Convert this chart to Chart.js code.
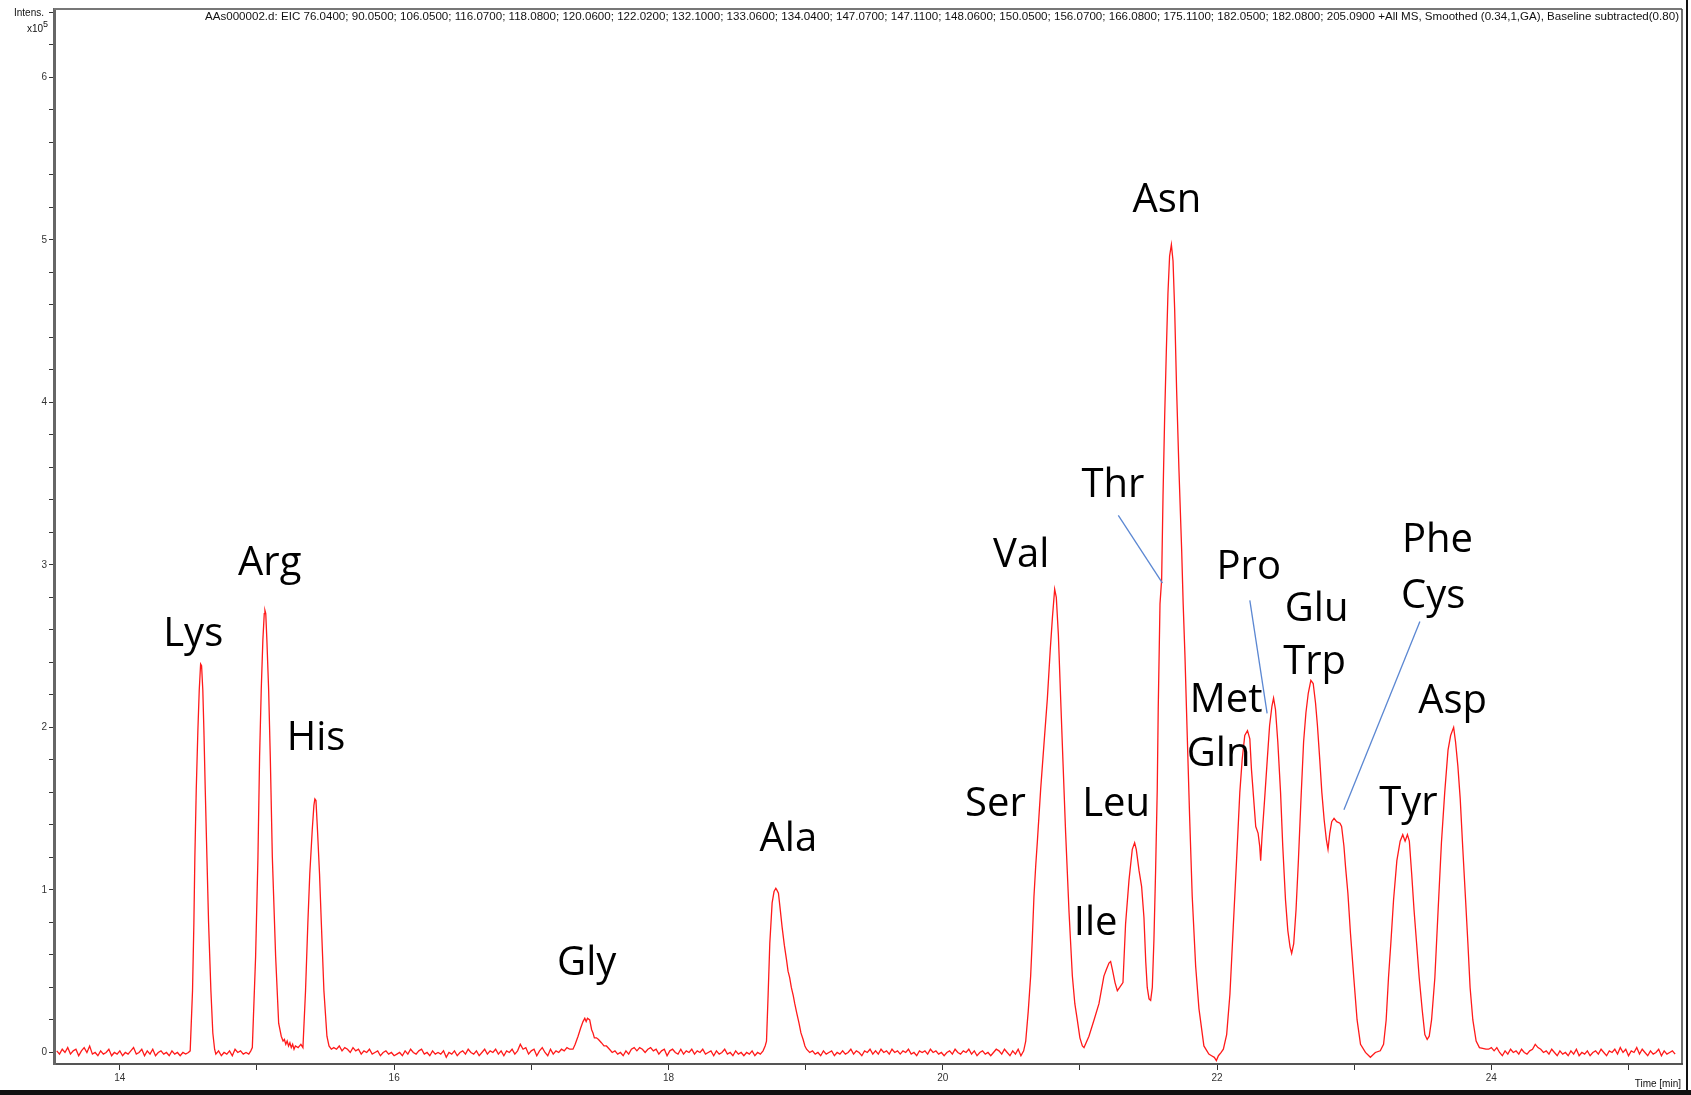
<!DOCTYPE html>
<html><head><meta charset="utf-8">
<script src="https://cdn.jsdelivr.net/npm/chart.js@4.4.1/dist/chart.umd.min.js"></script>
<style>html,body{margin:0;padding:0;background:#fff;overflow:hidden}canvas{display:block}</style>
</head><body>
<canvas id="c" width="1691" height="1095"></canvas>
<script>
// Chromatogram trace, [time (min), intensity (x10^5)], segment by segment
const baselineStart = [[13.54,0.01],[13.56,-0.01],[13.58,0.02],[13.60,0.00],[13.62,0.03],[13.64,-0.01],[13.66,0.01],[13.68,0.02],[13.70,-0.02],[13.72,0.01],[13.74,0.03],[13.76,0.00],[13.78,0.04],[13.80,-0.01],[13.82,0.00],[13.84,-0.02],[13.86,0.01],[13.88,-0.01],[13.90,0.00],[13.92,0.02],[13.94,-0.02],[13.96,0.00],[13.98,-0.01],[14.00,0.01],[14.02,-0.02],[14.04,0.00],[14.06,-0.01],[14.08,0.01],[14.10,0.03],[14.12,-0.01],[14.14,0.00],[14.16,0.02],[14.18,-0.02],[14.20,0.01],[14.22,-0.01],[14.24,0.02],[14.26,-0.02],[14.28,0.00],[14.30,0.01],[14.32,-0.01],[14.34,0.00],[14.36,-0.02],[14.38,0.01],[14.40,-0.01],[14.42,0.00],[14.44,-0.02],[14.46,0.00],[14.48,-0.01],[14.50,0.00]];
const lysArgHis = [[14.513,0.01],[14.53,0.38],[14.54,0.80],[14.547,1.20],[14.557,1.61],[14.569,1.98],[14.579,2.23],[14.589,2.39],[14.596,2.38],[14.605,2.23],[14.613,1.98],[14.623,1.61],[14.635,1.20],[14.647,0.80],[14.664,0.38],[14.678,0.12],[14.691,0.02],
  [14.70,-0.01],[14.72,0.01],[14.74,-0.02],[14.76,0.00],[14.78,-0.01],[14.80,0.01],[14.82,-0.02],[14.84,0.02],[14.86,0.00],[14.88,0.01],[14.90,-0.01],[14.92,0.00],[14.94,-0.01],[14.955,0.01],
  [14.966,0.03],[14.99,0.59],[15.007,1.20],[15.019,1.82],[15.031,2.23],[15.043,2.54],[15.053,2.70],[15.058,2.72],[15.064,2.70],[15.072,2.54],[15.085,2.23],[15.097,1.82],[15.112,1.20],[15.136,0.59],[15.158,0.18],[15.177,0.10],[15.19,0.07],[15.20,0.08],[15.21,0.05],[15.22,0.07],[15.23,0.04],[15.24,0.06],[15.25,0.03],[15.26,0.05],[15.27,0.02],[15.28,0.04],[15.30,0.03],[15.32,0.05],
  [15.335,0.03],[15.354,0.38],[15.371,0.80],[15.385,1.10],[15.403,1.37],[15.415,1.52],[15.422,1.56],[15.43,1.55],[15.441,1.37],[15.456,1.10],[15.469,0.80],[15.488,0.38],[15.51,0.10],[15.525,0.04],[15.542,0.02]];
const baselineMid1 = [[15.56,0.03],[15.58,0.02],[15.60,0.04],[15.62,0.01],[15.64,0.03],[15.66,0.02],[15.68,0.00],[15.70,0.03],[15.72,0.01],[15.74,0.02],[15.76,-0.01],[15.78,0.01],[15.80,0.00],[15.82,0.02],[15.84,-0.01],[15.86,0.00],[15.88,0.01],[15.90,-0.02],[15.92,0.00],[15.94,0.01],[15.96,-0.01],[15.98,0.00],[16.00,-0.02],[16.02,-0.01],[16.04,0.00],[16.06,-0.02],[16.08,0.01],[16.10,-0.01],[16.12,0.02],[16.14,0.00],[16.16,-0.01],[16.18,0.01],[16.20,0.02],[16.22,-0.01],[16.24,0.00],[16.26,-0.02],[16.28,0.01],[16.30,-0.01],[16.32,0.00],[16.34,-0.01],[16.36,0.01],[16.38,-0.03],[16.40,0.00],[16.42,-0.01],[16.44,0.01],[16.46,-0.02],[16.48,0.00],[16.50,0.01],[16.52,-0.01],[16.54,0.02],[16.56,0.00],[16.58,-0.01],[16.60,0.01],[16.62,-0.02],[16.64,0.00],[16.66,0.02],[16.68,-0.01],[16.70,0.01],[16.72,0.00],[16.74,0.02],[16.76,-0.01],[16.78,0.01],[16.80,-0.02],[16.82,0.01],[16.84,0.00],[16.86,0.02],[16.88,-0.01],[16.90,0.01],[16.92,0.05],[16.94,0.02],[16.96,0.03],[16.98,-0.01],[17.00,0.01],[17.02,0.02],[17.04,-0.02],[17.06,0.01],[17.08,0.03],[17.10,0.00],[17.12,-0.02],[17.14,0.02],[17.16,-0.01],[17.18,0.01],[17.20,0.00],[17.22,0.02],[17.24,0.01],[17.26,0.03],[17.28,0.02]];
const glyPeak = [[17.304,0.02],[17.32,0.05],[17.341,0.10],[17.36,0.15],[17.377,0.19],[17.39,0.21],[17.40,0.19],[17.41,0.21],[17.426,0.20],[17.44,0.14],[17.45,0.12],[17.46,0.09],[17.475,0.09],[17.49,0.08],[17.511,0.06],[17.53,0.04],[17.548,0.04],[17.57,0.02]];
const baselineMid2 = [[17.59,0.00],[17.61,0.01],[17.63,-0.01],[17.65,0.00],[17.67,-0.02],[17.69,0.01],[17.71,-0.01],[17.73,0.02],[17.75,0.03],[17.77,0.01],[17.79,0.03],[17.81,0.02],[17.83,0.00],[17.85,0.02],[17.87,0.03],[17.89,0.01],[17.91,0.02],[17.93,-0.01],[17.95,0.01],[17.97,0.02],[17.99,-0.02],[18.01,0.01],[18.03,0.02],[18.05,0.00],[18.07,-0.01],[18.09,0.02],[18.11,-0.01],[18.13,0.01],[18.15,0.00],[18.17,0.02],[18.19,-0.01],[18.21,0.01],[18.23,0.00],[18.25,0.02],[18.27,-0.01],[18.29,0.00],[18.31,0.01],[18.33,-0.02],[18.35,0.01],[18.37,-0.01],[18.39,0.00],[18.41,0.02],[18.43,-0.01],[18.45,0.00],[18.47,-0.02],[18.49,0.01],[18.51,-0.01],[18.53,0.00],[18.55,-0.02],[18.57,0.00],[18.59,-0.01],[18.61,0.01],[18.63,-0.02],[18.65,0.00],[18.67,-0.01],[18.69,0.01]];
const alaPeak = [[18.705,0.04],[18.715,0.07],[18.727,0.36],[18.739,0.67],[18.756,0.92],[18.77,0.99],[18.783,1.01],[18.79,1.00],[18.802,0.98],[18.815,0.88],[18.829,0.77],[18.845,0.66],[18.861,0.57],[18.872,0.50],[18.884,0.46],[18.896,0.40],[18.91,0.35],[18.921,0.30],[18.936,0.24],[18.952,0.18],[18.966,0.12],[18.982,0.08],[18.995,0.04],[19.007,0.02]];
const baselineMid3 = [[19.03,0.00],[19.05,0.01],[19.07,-0.01],[19.09,0.00],[19.11,-0.02],[19.13,0.01],[19.15,-0.01],[19.17,0.00],[19.19,0.01],[19.21,-0.02],[19.23,0.00],[19.25,-0.01],[19.27,0.01],[19.29,-0.01],[19.31,0.00],[19.33,0.02],[19.35,-0.01],[19.37,0.01],[19.39,0.00],[19.41,-0.02],[19.43,0.01],[19.45,0.00],[19.47,0.02],[19.49,-0.01],[19.51,0.01],[19.53,-0.01],[19.55,0.02],[19.57,0.00],[19.59,0.01],[19.61,-0.01],[19.63,0.02],[19.65,0.00],[19.67,0.01],[19.69,-0.01],[19.71,0.01],[19.73,0.00],[19.75,0.02],[19.77,-0.01],[19.79,0.00],[19.81,-0.02],[19.83,0.01],[19.85,0.00],[19.87,0.01],[19.89,-0.01],[19.91,0.02],[19.93,0.00],[19.95,0.01],[19.97,-0.01],[19.99,0.00],[20.01,-0.02],[20.03,0.00],[20.05,0.01],[20.07,-0.01],[20.09,0.02],[20.11,0.00],[20.13,-0.01],[20.15,0.01],[20.17,0.00],[20.19,0.02],[20.21,-0.01],[20.23,0.01],[20.25,-0.02],[20.27,0.00],[20.29,0.01],[20.31,-0.01],[20.33,0.00],[20.35,-0.02],[20.37,0.00],[20.39,0.02],[20.41,0.01],[20.43,-0.01],[20.45,0.02],[20.47,0.00],[20.49,-0.02],[20.51,0.01],[20.53,-0.01],[20.55,0.02],[20.57,-0.02],[20.59,0.01]];
const serValIleLeuAsn = [[20.605,0.07],[20.623,0.25],[20.641,0.47],[20.653,0.70],[20.665,0.96],[20.678,1.15],[20.69,1.30],[20.714,1.62],[20.74,1.92],[20.763,2.18],[20.784,2.48],[20.80,2.68],[20.816,2.85],[20.828,2.80],[20.843,2.57],[20.86,2.17],[20.877,1.78],[20.896,1.35],[20.921,0.86],[20.945,0.47],[20.963,0.30],[20.981,0.20],[21.00,0.09],[21.018,0.04],[21.03,0.03],
  [21.066,0.10],[21.103,0.20],[21.139,0.30],[21.175,0.47],[21.193,0.51],[21.212,0.55],[21.224,0.56],[21.237,0.51],[21.256,0.43],[21.273,0.38],[21.29,0.40],[21.314,0.43],[21.333,0.79],[21.358,1.06],[21.382,1.25],[21.399,1.29],[21.411,1.25],[21.431,1.12],[21.45,1.02],[21.467,0.83],[21.48,0.56],[21.491,0.40],[21.504,0.33],[21.516,0.32],[21.528,0.40],[21.54,0.70],[21.552,1.12],[21.564,1.62],[21.571,2.11],[21.584,2.76],[21.596,2.91],[21.606,3.42],[21.618,3.91],[21.63,4.31],[21.642,4.67],[21.654,4.90],[21.667,4.97],[21.679,4.87],[21.691,4.57],[21.705,4.08],[21.722,3.59],[21.742,3.09],[21.753,2.76],[21.766,2.44],[21.783,1.94],[21.80,1.45],[21.819,0.96],[21.844,0.53],[21.868,0.27],[21.904,0.04],[21.94,-0.01],[21.96,-0.02],[21.98,-0.03],[21.995,-0.05],[22.01,-0.02],[22.03,0.00]];
const metToAsp = [[22.046,0.02],[22.07,0.11],[22.094,0.36],[22.118,0.77],[22.142,1.18],[22.166,1.60],[22.183,1.80],[22.202,1.95],[22.222,1.98],[22.239,1.93],[22.251,1.74],[22.267,1.56],[22.282,1.39],[22.299,1.35],[22.311,1.27],[22.318,1.18],[22.328,1.33],[22.347,1.56],[22.366,1.80],[22.383,2.01],[22.40,2.13],[22.412,2.18],[22.426,2.11],[22.443,1.91],[22.463,1.60],[22.479,1.27],[22.499,0.94],[22.516,0.75],[22.532,0.65],[22.544,0.61],[22.559,0.67],[22.576,0.88],[22.593,1.18],[22.612,1.56],[22.631,1.91],[22.648,2.09],[22.665,2.21],[22.684,2.29],[22.701,2.27],[22.718,2.15],[22.732,2.01],[22.749,1.80],[22.764,1.60],[22.781,1.43],[22.797,1.31],[22.809,1.25],[22.822,1.35],[22.836,1.42],[22.853,1.44],[22.872,1.42],[22.896,1.41],[22.908,1.39],[22.925,1.27],[22.937,1.14],[22.954,0.98],[22.973,0.73],[22.997,0.46],[23.021,0.20],[23.046,0.05],[23.082,0.00],[23.118,-0.03],[23.154,0.00],[23.19,0.01],[23.214,0.05],[23.233,0.20],[23.25,0.46],[23.267,0.67],[23.287,0.94],[23.311,1.18],[23.335,1.30],[23.354,1.34],[23.371,1.30],[23.388,1.34],[23.402,1.30],[23.419,1.10],[23.436,0.88],[23.455,0.67],[23.474,0.46],[23.496,0.26],[23.515,0.11],[23.532,0.08],[23.547,0.10],[23.564,0.20],[23.588,0.46],[23.612,0.88],[23.636,1.29],[23.66,1.60],[23.684,1.86],[23.703,1.95],[23.725,2.00],[23.739,1.91],[23.756,1.76],[23.773,1.56],[23.792,1.25],[23.812,0.94],[23.829,0.67],[23.845,0.40],[23.865,0.20],[23.889,0.07],[23.913,0.03],[23.961,0.02]];
const baselineEnd = [[23.98,0.02],[24.00,0.03],[24.02,0.01],[24.04,0.03],[24.06,0.00],[24.08,-0.02],[24.10,0.01],[24.12,-0.01],[24.14,0.02],[24.16,0.00],[24.18,0.01],[24.20,-0.01],[24.22,0.02],[24.24,0.00],[24.26,-0.01],[24.28,0.01],[24.30,0.02],[24.32,0.05],[24.34,0.03],[24.36,0.02],[24.38,0.00],[24.40,0.01],[24.42,-0.01],[24.44,0.02],[24.46,0.00],[24.48,-0.02],[24.50,0.01],[24.52,-0.01],[24.54,0.00],[24.56,-0.02],[24.58,0.01],[24.60,-0.01],[24.62,0.02],[24.64,-0.02],[24.66,0.00],[24.68,-0.01],[24.70,0.01],[24.72,-0.02],[24.74,0.00],[24.76,0.01],[24.78,-0.01],[24.80,0.02],[24.82,0.00],[24.84,-0.02],[24.86,0.01],[24.88,0.00],[24.90,0.02],[24.92,-0.01],[24.94,0.03],[24.96,0.00],[24.98,0.02],[25.00,-0.02],[25.02,0.01],[25.04,0.00],[25.06,0.03],[25.08,-0.01],[25.10,0.02],[25.12,0.00],[25.14,-0.02],[25.16,0.01],[25.18,-0.01],[25.20,0.00],[25.22,0.02],[25.24,-0.02],[25.26,0.01],[25.28,-0.01],[25.30,0.00],[25.32,0.01],[25.34,-0.01]];

// Axis ticks
const xTickMinutes = [14,15,16,17,18,19,20,21,22,23,24,25];
const xTickLabels = ['14','','16','','18','','20','','22','','24',''];
const yTickLabels = ['0','1','2','3','4','5','6'];

// Peak labels: text, anchor time (min), baseline intensity (x10^5)
const peakNames     = ['Lys','Arg','His','Gly','Ala','Ser','Val','Ile','Leu','Thr','Asn','Pro','Met','Gln','Glu','Trp','Phe','Cys','Tyr','Asp'];
const peakLabelTime = [14.535,15.093,15.431,17.404,18.874,20.384,20.572,21.115,21.264,21.241,21.634,22.231,22.066,22.011,22.726,22.711,23.607,23.576,23.395,23.717];
const peakLabelInt  = [2.503,2.940,1.861,0.477,1.238,1.457,2.987,0.722,1.457,3.417,5.172,2.914,2.093,1.762,2.656,2.331,3.079,2.735,1.464,2.086];
// Leader lines (time, intensity) start -> end
const leaderStartTime = [21.280,22.239,23.479];
const leaderStartInt  = [3.305,2.781,2.652];
const leaderEndTime   = [21.602,22.365,22.925];
const leaderEndInt    = [2.887,2.086,1.493];

const headerText = 'AAs000002.d: EIC 76.0400; 90.0500; 106.0500; 116.0700; 118.0800; 120.0600; 122.0200; 132.1000; 133.0600; 134.0400; 147.0700; 147.1100; 148.0600; 150.0500; 156.0700; 166.0800; 175.1100; 182.0500; 182.0800; 205.0900 +All MS, Smoothed (0.34,1,GA), Baseline subtracted(0.80)';

const trace = [].concat(baselineStart, lysArgHis, baselineMid1, glyPeak, baselineMid2, alaPeak, baselineMid3, serValIleLeuAsn, metToAsp, baselineEnd)
  .map(p => ({x: p[0], y: p[1]}));

const yTickValues = [];
for (let k = 0; k <= 32; k++) yTickValues.push(Math.round(k * 0.2 * 10) / 10);

const smallFont = "'Liberation Sans', Arial, sans-serif";

const decor = {
  id: 'decor',
  afterDraw(chart) {
    const ctx = chart.ctx, a = chart.chartArea, xs = chart.scales.x, ys = chart.scales.y;
    ctx.save();
    // frame
    ctx.strokeStyle = '#777'; ctx.lineWidth = 2;
    ctx.beginPath(); ctx.moveTo(a.left, a.top); ctx.lineTo(a.right, a.top); ctx.stroke();
    ctx.strokeStyle = '#444'; ctx.lineWidth = 1.5;
    ctx.beginPath(); ctx.moveTo(a.right, a.top); ctx.lineTo(a.right, a.bottom); ctx.stroke();
    ctx.strokeStyle = '#111'; ctx.lineWidth = 2;
    ctx.beginPath(); ctx.moveTo(1687, 0); ctx.lineTo(1687, 1095); ctx.stroke();
    ctx.fillStyle = '#111'; ctx.fillRect(0, 1090, 1691, 5);

    // header
    ctx.fillStyle = '#111';
    ctx.font = "10px 'Liberation Sans Narrow', " + smallFont;
    ctx.textBaseline = 'middle'; ctx.textAlign = 'left';
    const w = ctx.measureText(headerText).width, target = 1474;
    ctx.save(); ctx.translate(205, 17); ctx.scale(target / w, 1); ctx.fillText(headerText, 0, 0); ctx.restore();

    // Intens. x10^5
    ctx.font = "10px " + smallFont; ctx.textAlign = 'right';
    ctx.fillText('Intens.', 44, 13);
    ctx.fillText('x10', 43, 29);
    ctx.font = "9px " + smallFont; ctx.textAlign = 'left';
    ctx.fillText('5', 43, 25);
    // Time [min]
    ctx.font = "10px 'Liberation Sans Narrow', " + smallFont; ctx.textAlign = 'right';
    ctx.fillText('Time [min]', 1681, 1084);

    // leader lines
    ctx.strokeStyle = '#5b87d2'; ctx.lineWidth = 1.3;
    for (let i = 0; i < leaderStartTime.length; i++) {
      ctx.beginPath();
      ctx.moveTo(xs.getPixelForValue(leaderStartTime[i]), ys.getPixelForValue(leaderStartInt[i]));
      ctx.lineTo(xs.getPixelForValue(leaderEndTime[i]), ys.getPixelForValue(leaderEndInt[i]));
      ctx.stroke();
    }
    // peak labels
    ctx.fillStyle = '#000';
    ctx.font = "40px 'Open Sans', 'Noto Sans', sans-serif";
    ctx.textAlign = 'center'; ctx.textBaseline = 'alphabetic';
    for (let i = 0; i < peakNames.length; i++) {
      ctx.fillText(peakNames[i], xs.getPixelForValue(peakLabelTime[i]), ys.getPixelForValue(peakLabelInt[i]));
    }
    ctx.restore();
  }
};

new Chart(document.getElementById('c'), {
  type: 'line',
  data: { datasets: [{ data: trace, borderColor: '#ff1a1a', borderWidth: 1.3, pointRadius: 0, tension: 0, fill: false }] },
  options: {
    responsive: false, animation: false, devicePixelRatio: 1,
    layout: { padding: { top: 9, right: 9, left: 0, bottom: 0 } },
    plugins: { legend: { display: false }, tooltip: { enabled: false } },
    scales: {
      x: {
        type: 'linear', min: 13.52, max: 25.39,
        afterFit(s) { s.height = 31; },
        afterBuildTicks(s) { s.ticks = xTickMinutes.map(v => ({ value: v })); },
        ticks: { autoSkip: false, maxRotation: 0, padding: 2, color: '#333', font: { family: smallFont, size: 10 },
          callback(v, i) { return xTickLabels[i]; } },
        grid: { drawOnChartArea: false, drawTicks: true, tickLength: 6, color: '#333', lineWidth: 1 },
        border: { display: true, color: '#555', width: 2 }
      },
      y: {
        type: 'linear', min: -0.071, max: 6.42,
        afterFit(s) { s.width = 54; },
        afterBuildTicks(s) { s.ticks = yTickValues.map(v => ({ value: v })); },
        ticks: { autoSkip: false, padding: 2, color: '#333', font: { family: smallFont, size: 10 },
          callback(v) { const r = Math.round(v); return Math.abs(v - r) < 1e-6 ? yTickLabels[r] : ''; } },
        grid: { drawOnChartArea: false, drawTicks: true, tickLength: 5, color: '#333', lineWidth: 1 },
        border: { display: true, color: '#666', width: 3 }
      }
    }
  },
  plugins: [decor]
});
</script>
</body></html>
